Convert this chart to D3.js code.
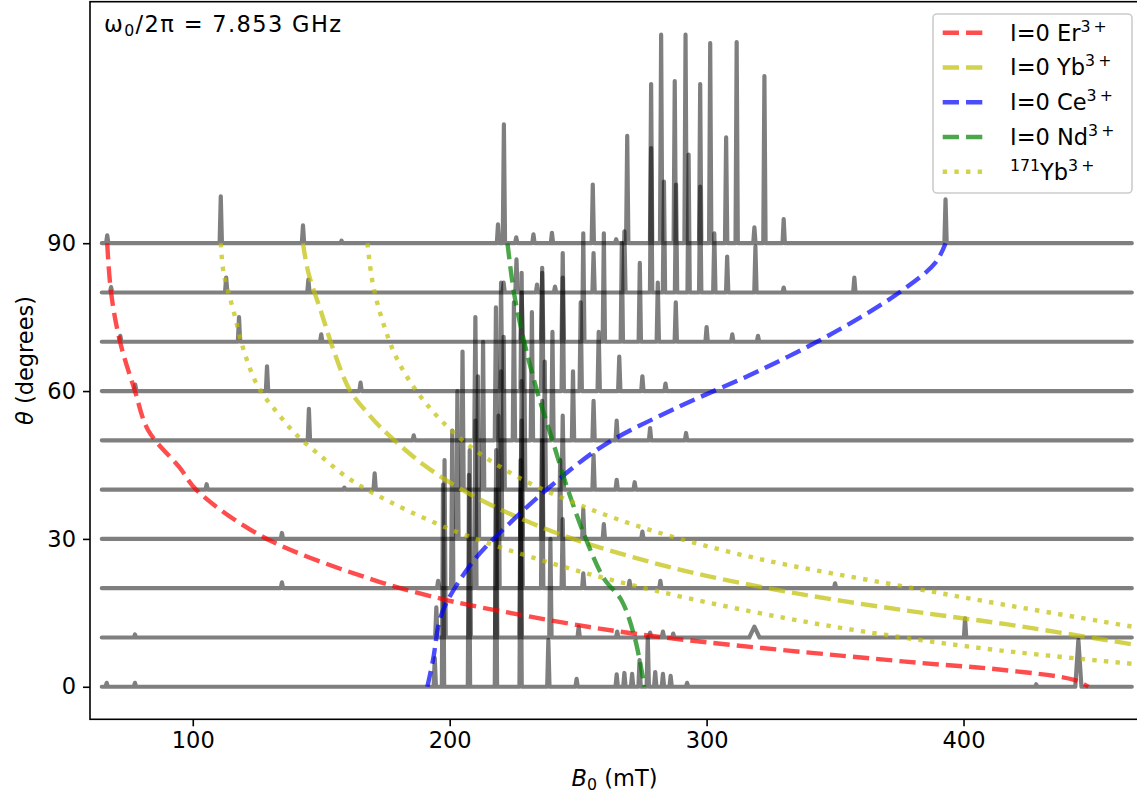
<!DOCTYPE html>
<html>
<head>
<meta charset="utf-8">
<script src="https://cdn.jsdelivr.net/npm/d3@7"></script>
<style>
  body { margin: 0; background: #fff; }
  text { font-family: "DejaVu Sans", sans-serif; }
</style>
</head>
<body>
<div id="canvas"></div>
<script>
// DATA ========================================================================

var ANGLES = [0, 10, 20, 30, 40, 50, 60, 70, 80, 90]

var B_RANGE = [64.6, 465.5]

// peaks per spectrum: [B0 (mT), height (degrees of offset), half width (mT, optional)]
var PEAKS_00 = [[66.5, 0.8], [77.5, 0.8], [194.2, 5.8], [197.4, 41], [207.5, 43], [218, 40], [227.6, 40], [238.4, 9.5], [249.4, 1.6], [265, 2.5], [268, 2.8], [271, 2.6], [273.9, 5.4], [277.1, 10.1], [280, 3], [283, 2.6], [286, 2.2], [292.4, 0.8], [428.3, 0.5], [444.7, 9.5, 1.2]]
var PEAKS_10 = [[77.5, 0.6], [194.8, 6.1], [198, 36], [207.8, 38], [218.1, 38], [227.6, 36], [239.2, 20], [250.2, 2.2], [265.2, 1.2], [278, 1], [283, 1.2], [287, 0.8], [318.6, 2.2, 2], [400.6, 3.9]]
var PEAKS_20 = [[134.7, 1.2], [195.5, 1.5], [201, 32], [210, 34], [219, 35], [228, 34], [236, 30], [244, 14], [252, 3], [270, 1.5], [282, 1.5], [350, 1]]
var PEAKS_30 = [[134.7, 1.2], [203, 30], [211, 33], [220, 34], [228, 32], [236, 28], [243, 16], [252, 6], [260, 3], [275, 1.5]]
var PEAKS_40 = [[105.4, 1.1], [159, 0.4], [170.8, 3.3], [205, 28], [213, 30], [221, 31], [229, 30], [237, 26], [244, 15], [256, 7], [265, 2], [272, 1.5]]
var PEAKS_50 = [[145.2, 6.4], [186, 1], [210, 25], [218, 27], [225, 28], [232, 26], [240, 22], [248, 14], [256, 8], [265, 4], [278, 2.5], [292, 1.5]]
var PEAKS_60 = [[77.6, 1.3], [128.9, 5], [165.3, 1.7], [220, 22], [228, 24], [236, 25], [244, 23], [251, 18], [258, 12], [266, 7], [275, 3], [284, 1.5]]
var PEAKS_70 = [[71.8, 1.2], [118, 5], [150, 1.5], [228, 10], [236, 14], [244, 18], [252, 22], [260, 22], [267, 20], [274, 16], [281, 12], [288, 8], [300, 3], [310, 1.5], [320, 1.2]]
var PEAKS_80 = [[68.2, 1.1], [113, 3], [145, 2.6], [221, 2], [226, 6.7], [234, 1.6], [241, 1.2], [256, 8], [268, 12.4], [278.4, 29.3], [283.4, 22.5], [288.1, 21.9], [293, 28], [297.5, 21.5], [303, 12], [308, 7.3], [319, 9.3], [330, 1], [357.5, 3]]
var PEAKS_90 = [[66.7, 1.6], [110.9, 9.5], [142.9, 3.6], [157.9, 0.5], [218.8, 3.8], [221.1, 24.1], [225.9, 1.2], [232.6, 1.8], [239.8, 2.1], [255.7, 11.9], [264.8, 0.8], [269.1, 21.8], [278.4, 32.3], [282.3, 42.3], [287.6, 32.9], [291.8, 42.3], [297.5, 32.3], [301.4, 40.6], [307.6, 21.5], [311.7, 40.8], [318.6, 3.2], [322.5, 33.9], [330, 4.9], [393, 8.9]]

// simulated resonance positions: [B0 (mT), theta (degrees)]
var ER_I0 = [[66.7, 90], [68.2, 80], [71.7, 70], [77.5, 60], [82.7, 52], [95, 44.4], [101.5, 39.9], [127.4, 30.4], [170.2, 21.7], [198.7, 17.6], [219.4, 15.4], [271.5, 10.8], [377.4, 5.1], [413.8, 3.5], [443, 1.4], [448.6, 0]]
var YB_I0 = [[142.9, 90], [145, 84], [150, 76], [155, 68], [161.1, 60.2], [167.6, 55.8], [172.8, 52.8], [190, 45], [210, 38.5], [240, 31.5], [270, 26.5], [300, 22.5], [340, 18.5], [380, 15.3], [416.5, 12.7], [467.1, 8.5]]
var CE_I0 = [[191.3, 0], [193.5, 5.4], [196.1, 13.5], [199.3, 17.6], [210, 26], [225, 34], [240, 41], [260, 49], [290, 57], [320, 64], [350, 72], [375, 80], [389, 86], [393, 90]]
var ND_I0 = [[222.5, 90], [225, 80], [229, 70], [234, 60], [240, 50], [246, 40], [253, 30], [260, 22], [266.8, 17.6], [272, 10], [275.8, 0]]
var YB171_A = [[110.9, 90], [112, 84], [116, 76], [120, 68], [125.4, 60.9], [132.6, 55.8], [140.4, 51.1], [149.4, 47], [159.8, 42.6], [170.2, 39.3], [200, 32], [240, 25], [280, 19.5], [330, 14], [370, 10.5], [413.8, 7.4], [467.1, 4.6]]
var YB171_B = [[168, 90], [170, 82], [174, 74], [180, 66], [190, 58], [205, 50], [225, 43], [250, 37], [280, 31.5], [320, 26], [370, 21], [416.5, 16.6], [465.7, 12.2]]

var LEGEND = [
    {"label": "I=0 Er", "sup": "3\u2009+", "pre": "", "color": "#ff0000", "dash": "dashed"},
    {"label": "I=0 Yb", "sup": "3\u2009+", "pre": "", "color": "#bfbf00", "dash": "dashed"},
    {"label": "I=0 Ce", "sup": "3\u2009+", "pre": "", "color": "#0000ff", "dash": "dashed"},
    {"label": "I=0 Nd", "sup": "3\u2009+", "pre": "", "color": "#008000", "dash": "dashed"},
    {"label": "Yb", "sup": "3\u2009+", "pre": "171", "color": "#bfbf00", "dash": "dotted"}
]

var X_TICKS = [100, 200, 300, 400]
var Y_TICKS = [0, 30, 60, 90]

// LAYOUT ======================================================================

var WIDTH = 1137
var HEIGHT = 793
var FONT_SIZE = 22.5
var LW = 4.4

var margin = { "left": 90, "top": 1.7, "right": -2, "bottom": 73.7 }

var DASHES = {
    "dashed": (3.7*LW) + "," + (1.6*LW),
    "dotted": (1*LW) + "," + (1.65*LW)
}

// DRAW ========================================================================

var svg = d3.select("#canvas").append("svg")
    .attr("width", WIDTH)
    .attr("height", HEIGHT)
    .style("background", "#fff")

var x = d3.scaleLinear().domain([60, 468.3]).range([margin.left, WIDTH - margin.right])
var y = d3.scaleLinear().domain([-6.6, 139]).range([HEIGHT - margin.bottom, margin.top])

svg.append("clipPath").attr("id", "clip")
    .append("rect")
        .attr("x", margin.left)
        .attr("y", margin.top)
        .attr("width", WIDTH - margin.right - margin.left)
        .attr("height", HEIGHT - margin.bottom - margin.top)

var plot = svg.append("g").attr("clip-path", "url(#clip)")

// Build a spectrum trace: flat baseline with narrow spikes at each peak.
function trace(peaks) {
    let pts = [[B_RANGE[0], 0]]
    peaks.slice().sort((a, b) => a[0] - b[0]).forEach(function(p) {
        let w = p[2] ? p[2] : 0.45
        pts.push([p[0] - w, 0], [p[0], p[1]], [p[0] + w, 0])
    })
    pts.push([B_RANGE[1], 0])
    return pts
}

var SPECTRA = [PEAKS_00, PEAKS_10, PEAKS_20, PEAKS_30, PEAKS_40, PEAKS_50, PEAKS_60, PEAKS_70, PEAKS_80, PEAKS_90]

SPECTRA.forEach(function(peaks, i) {
    let offset = ANGLES[i]
    let line = d3.line().x(d => x(d[0])).y(d => y(d[1] + offset))
    plot.append("path")
        .attr("d", line(trace(peaks)))
        .attr("fill", "none")
        .attr("stroke", "#000")
        .attr("stroke-opacity", 0.5)
        .attr("stroke-width", 4.2)
        .attr("stroke-linejoin", "round")
        .attr("stroke-linecap", "round")
})

var CURVES = [
    { "data": ER_I0, "color": "#ff0000", "dash": "dashed" },
    { "data": YB_I0, "color": "#bfbf00", "dash": "dashed" },
    { "data": CE_I0, "color": "#0000ff", "dash": "dashed" },
    { "data": ND_I0, "color": "#008000", "dash": "dashed" },
    { "data": YB171_A, "color": "#bfbf00", "dash": "dotted" },
    { "data": YB171_B, "color": "#bfbf00", "dash": "dotted" }
]

var curve = d3.line().x(d => x(d[0])).y(d => y(d[1])).curve(d3.curveCatmullRom)

CURVES.forEach(function(c) {
    plot.append("path")
        .attr("d", curve(c.data))
        .attr("fill", "none")
        .attr("stroke", c.color)
        .attr("stroke-opacity", 0.7)
        .attr("stroke-width", LW)
        .attr("stroke-dasharray", DASHES[c.dash])
})

// Axes.
var xAxis = svg.append("g")
    .attr("transform", "translate(0," + (HEIGHT - margin.bottom) + ")")
    .call(d3.axisBottom(x).tickValues(X_TICKS).tickSize(7).tickPadding(6))

var yAxis = svg.append("g")
    .attr("transform", "translate(" + margin.left + ",0)")
    .call(d3.axisLeft(y).tickValues(Y_TICKS).tickSize(7).tickPadding(7))

;[xAxis, yAxis].forEach(function(a) {
    a.select(".domain").remove()
    a.selectAll("line").attr("stroke", "#000").attr("stroke-width", 1.6)
    a.selectAll("text").attr("font-size", FONT_SIZE).attr("fill", "#000")
        .style("font-family", "DejaVu Sans")
})

// Spines.
svg.append("rect")
    .attr("x", margin.left)
    .attr("y", margin.top)
    .attr("width", WIDTH - margin.right - margin.left)
    .attr("height", HEIGHT - margin.bottom - margin.top)
    .attr("fill", "none")
    .attr("stroke", "#000")
    .attr("stroke-width", 1.6)

// Axis labels.
var xl = svg.append("text")
    .attr("x", (margin.left + WIDTH - margin.right)/2)
    .attr("y", 786)
    .attr("text-anchor", "middle")
    .attr("font-size", FONT_SIZE)
xl.append("tspan").attr("font-style", "italic").text("B")
xl.append("tspan").attr("font-size", FONT_SIZE*0.7).attr("dy", 4).text("0")
xl.append("tspan").attr("dy", -4).text(" (mT)")

var yl = svg.append("text")
    .attr("transform", "translate(33," + ((margin.top + HEIGHT - margin.bottom)/2) + ") rotate(-90)")
    .attr("text-anchor", "middle")
    .attr("font-size", FONT_SIZE)
yl.append("tspan").attr("font-style", "italic").text("θ")
yl.append("tspan").text(" (degrees)")

// Frequency annotation.
var note = svg.append("text")
    .attr("x", 104)
    .attr("y", 32)
    .attr("font-size", FONT_SIZE)
    .attr("textLength", 237)
    .attr("lengthAdjust", "spacing")
note.append("tspan").text("ω")
note.append("tspan").attr("font-size", FONT_SIZE*0.7).attr("dy", 4).text("0")
note.append("tspan").attr("dy", -4).text("/2π = 7.853 GHz")

// Legend.
var leg = svg.append("g")
leg.append("rect")
    .attr("x", 933)
    .attr("y", 14)
    .attr("width", 199)
    .attr("height", 179)
    .attr("rx", 4)
    .attr("fill", "#fff")
    .attr("fill-opacity", 0.8)
    .attr("stroke", "#cccccc")
    .attr("stroke-width", 1.6)

LEGEND.forEach(function(d, i) {
    let cy = 32.7 + i*34.75
    leg.append("line")
        .attr("x1", 942.7).attr("x2", 985)
        .attr("y1", cy).attr("y2", cy)
        .attr("stroke", d.color)
        .attr("stroke-opacity", 0.7)
        .attr("stroke-width", LW)
        .attr("stroke-dasharray", DASHES[d.dash])
    let t = leg.append("text")
        .attr("x", 1010)
        .attr("y", cy + 8)
        .attr("font-size", FONT_SIZE)
    if (d.pre) {
        t.append("tspan").attr("font-size", FONT_SIZE*0.7).attr("dy", -9).text(d.pre)
        t.append("tspan").attr("dy", 9).text(d.label)
    } else {
        t.append("tspan").text(d.label)
    }
    t.append("tspan").attr("font-size", FONT_SIZE*0.7).attr("dy", -9).text(d.sup)
})
</script>
</body>
</html>
